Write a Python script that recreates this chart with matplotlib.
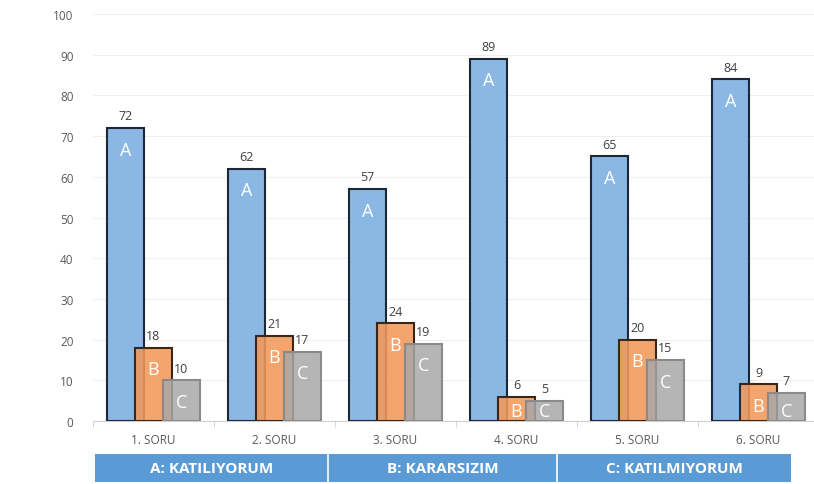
import matplotlib
matplotlib.use("Agg")
import matplotlib.pyplot as plt
import numpy as np
from matplotlib.patches import Rectangle

categories = ["1. SORU", "2. SORU", "3. SORU", "4. SORU", "5. SORU", "6. SORU"]
series_names = ["A", "B", "C"]
vals_a = [72, 62, 57, 89, 65, 84]
vals_b = [18, 21, 24, 6, 20, 9]
vals_c = [10, 17, 19, 5, 15, 7]
yticks = [0, 10, 20, 30, 40, 50, 60, 70, 80, 90, 100]
legend_labels = ["A: KATILIYORUM", "B: KARARSIZIM", "C: KATILMIYORUM"]

plt.rcParams['font.family'] = ['Open Sans', 'DejaVu Sans']

fig = plt.figure(figsize=(8.14, 4.85), dpi=100)
W, H = 814, 485
ax = fig.add_axes([93 / W, 1 - 422 / H, 726 / W, 407 / H])

x = np.arange(len(categories))
width = 0.31
offsets = [-0.23, 0.0, 0.23]
faces = [(0.49, 0.69, 0.88, 0.9), (0.95, 0.60, 0.35, 0.88), (0.66, 0.66, 0.66, 0.85)]
edges = ["#1c2833", "#3b2618", "#8a8a8a"]
series = [vals_a, vals_b, vals_c]

for i, (vals, name) in enumerate(zip(series, series_names)):
    bars = ax.bar(x + offsets[i], vals, width, color=faces[i], edgecolor=edges[i],
                  linewidth=1.5, zorder=3 + i)
    for b, v in zip(bars, vals):
        cx = b.get_x() + b.get_width() / 2
        ax.annotate(str(v), (cx, v), xytext=(0, 4), textcoords="offset points",
                    ha="center", va="bottom", fontsize=9, color="#404040", zorder=10)
        ax.text(cx, max(v - 5.3, 2.5), name, ha="center", va="center",
                fontsize=13, color="white", zorder=10)

ax.set_xlim(-0.5, 5.5)
ax.set_ylim(0, 100)
ax.set_yticks(yticks)
ax.set_xticks(x)
ax.set_xticklabels(categories, fontsize=8.5, color="#595959")
ax.set_xticks(np.arange(-0.5, 6.0, 1.0), minor=True)
ax.tick_params(axis="x", which="major", length=0, pad=9)
ax.tick_params(axis="x", which="minor", length=4, color="#d0d0d0")
ax.tick_params(axis="y", length=0, labelsize=8.5, labelcolor="#595959", pad=14)
ax.grid(axis="y", color="#f0f0f0", linewidth=0.8, zorder=0)
for s in ["top", "right", "left"]:
    ax.spines[s].set_visible(False)
ax.spines["bottom"].set_color("#d0d0d0")

# banner
bx0, bx1, by0, by1 = 95, 791, 455, 483
fig.patches.append(Rectangle((bx0 / W, 1 - by1 / H), (bx1 - bx0) / W, (by1 - by0) / H,
                             transform=fig.transFigure, facecolor="#5b9bd5",
                             edgecolor="none", zorder=1))
seps = [bx0, 328, 557, bx1]
for j, lab in enumerate(legend_labels):
    if 0 < j:
        fig.lines.append(plt.Line2D([seps[j] / W] * 2, [1 - by1 / H, 1 - by0 / H],
                                    transform=fig.transFigure, color="white", linewidth=1.2))
    cxp = (seps[j] + seps[j + 1]) / 2
    fig.text(cxp / W, 1 - (by0 + by1) / 2 / H, lab, ha="center", va="center",
             fontsize=11, fontweight="bold", color="white")

fig.savefig("out.png", dpi=100)
